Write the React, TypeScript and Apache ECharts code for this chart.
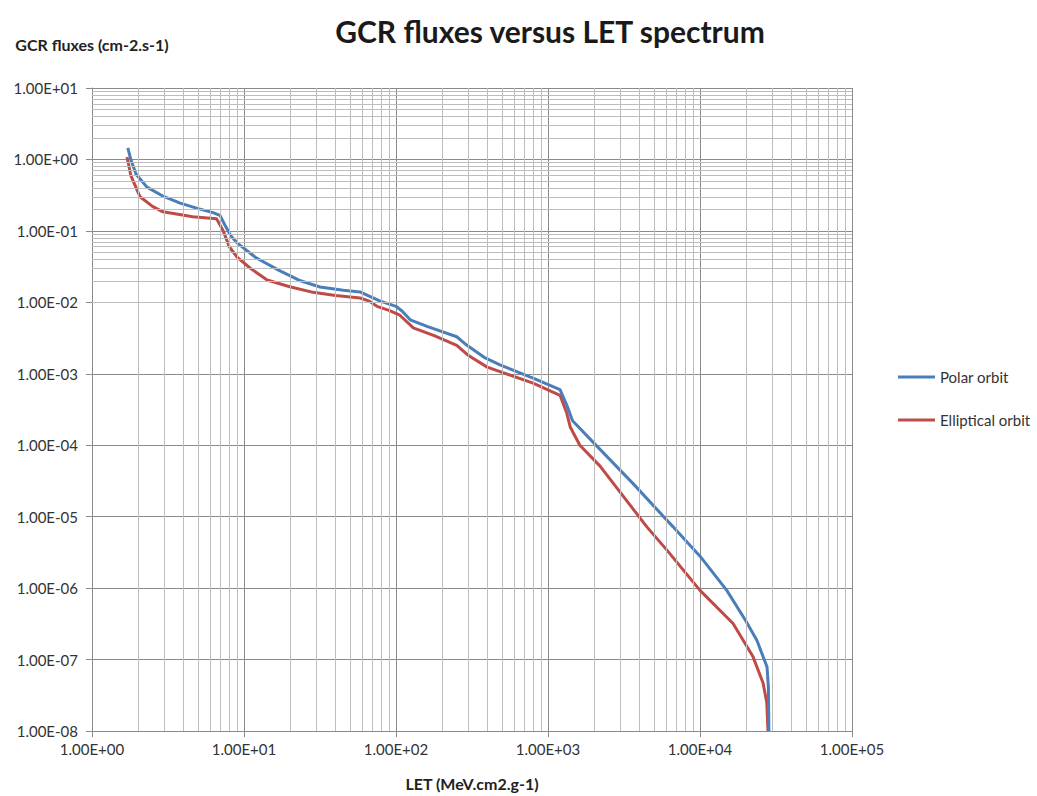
import React, { useEffect, useRef } from "react";
import * as echarts from "echarts";

const titleText = "GCR fluxes versus LET spectrum";
const yAxisTitle = "GCR fluxes (cm-2.s-1)";
const xAxisTitle = "LET (MeV.cm2.g-1)";
const seriesNames = ["Polar orbit", "Elliptical orbit"];

// LET (MeV.cm2.g-1)
const polarLET = [1.72, 1.8, 1.95, 2.3, 2.9, 3.8, 5, 6.25, 6.95, 7.5, 8.2, 9, 12, 17, 23, 31.6, 45, 58, 65, 78, 100, 110, 124, 160, 251, 293, 380, 483, 797, 1200, 1333, 1450, 2090, 3630, 6650, 10000, 15000, 20000, 23700, 26000, 27600, 28200, 28400];
const polarFlux = [1.45, 1.0, 0.62, 0.41, 0.31, 0.245, 0.205, 0.18, 0.165, 0.12, 0.085, 0.068, 0.042, 0.028, 0.0204, 0.0164, 0.0148, 0.014, 0.0125, 0.0105, 0.0088, 0.0075, 0.0057, 0.0046, 0.0033, 0.0025, 0.0017, 0.00133, 0.00087, 0.0006, 0.00036, 0.00022, 0.000098, 0.000029, 0.0000072, 0.0000028, 0.00000093, 0.00000035, 0.000000185, 0.00000011, 0.000000079, 0.00000004, 0.00000001];

const ellipLET = [1.7, 1.8, 2.07, 2.5, 2.93, 4.6, 6.6, 7.3, 8, 9, 11, 14.2, 20, 28.5, 40, 58, 66, 75, 90, 106, 130, 180, 251, 300, 398, 797, 1200, 1330, 1400, 1620, 2200, 4470, 6060, 10000, 16500, 22300, 26000, 27500, 28000];
const ellipFlux = [1.08, 0.6, 0.3, 0.22, 0.185, 0.158, 0.148, 0.1, 0.06, 0.043, 0.03, 0.0205, 0.0165, 0.0138, 0.0125, 0.0115, 0.0105, 0.0088, 0.0077, 0.0066, 0.0044, 0.0034, 0.0025, 0.0018, 0.00124, 0.00074, 0.0005, 0.00028, 0.00018, 0.0001, 0.000051, 0.0000072, 0.0000034, 0.00000093, 0.00000032, 0.00000011, 0.000000047, 0.000000025, 0.00000001];

const xMin = 1;
const xMax = 1e5;
const yMin = 1e-8;
const yMax = 10;

const minorMultipliers = [2, 3, 4, 5, 6, 7, 8, 9];
const xDecades = [0, 1, 2, 3, 4];
const yDecades = [-8, -7, -6, -5, -4, -3, -2, -1, 0];

function fmtSci(v: number): string {
  const e = Math.round(Math.log10(v));
  const sign = e < 0 ? "-" : "+";
  const a = Math.abs(e);
  return "1.00E" + sign + (a < 10 ? "0" + a : String(a));
}

export default function App() {
  const ref = useRef<HTMLDivElement>(null);
  useEffect(() => {
    if (!ref.current) return;
    const chart = echarts.init(ref.current, null, { renderer: "svg" });
    const font = "Lato, 'Open Sans', sans-serif";
    const minorX: any[] = [];
    xDecades.forEach((d) => minorMultipliers.forEach((k) => minorX.push({ xAxis: k * Math.pow(10, d) })));
    const minorY: any[] = [];
    yDecades.forEach((d) => minorMultipliers.forEach((k) => minorY.push({ yAxis: parseFloat((k * Math.pow(10, d)).toPrecision(3)) })));

    chart.setOption({
      animation: false,
      backgroundColor: "#ffffff",
      title: {
        text: titleText,
        left: 545,
        textAlign: "center",
        top: 11,
        textStyle: { fontFamily: font, fontSize: 30, fontWeight: "bold", color: "#1a1a1a" },
      },
      legend: {
        orient: "vertical",
        left: 893,
        top: 363,
        itemGap: 25,
        itemWidth: 37,
        itemHeight: 3,
        icon: "rect",
        data: seriesNames,
        textStyle: { fontFamily: font, fontSize: 15, color: "#333", lineHeight: 18, padding: [0, 0, 0, 0] },
      },
      grid: { left: 92, right: 185, top: 88, bottom: 65, outerBoundsMode: "none", containLabel: false },
      xAxis: {
        type: "log",
        logBase: 10,
        min: xMin,
        max: xMax,
        splitNumber: 5,
        name: xAxisTitle,
        nameLocation: "middle",
        nameGap: 44,
        nameTextStyle: { fontFamily: font, fontSize: 16, fontWeight: "bold", color: "#222" },
        axisLine: { show: true, lineStyle: { color: "#8a8a8a" } },
        axisTick: { show: true, length: 6, lineStyle: { color: "#8a8a8a" } },
        axisLabel: { formatter: (v: number) => fmtSci(v), fontFamily: font, fontSize: 15, color: "#333", margin: 10 },
        splitLine: { show: true, lineStyle: { color: "#8a8a8a", width: 1 } },
      },
      yAxis: {
        type: "log",
        logBase: 10,
        min: yMin,
        max: yMax,
        splitNumber: 9,
        name: yAxisTitle,
        nameLocation: "end",
        nameGap: 36,
        nameTextStyle: { fontFamily: font, fontSize: 16, fontWeight: "bold", color: "#222", align: "center" },
        axisLine: { show: true, lineStyle: { color: "#8a8a8a" } },
        axisTick: { show: true, length: 6, lineStyle: { color: "#8a8a8a" } },
        axisLabel: { formatter: (v: number) => fmtSci(v), fontFamily: font, fontSize: 15, color: "#333", margin: 14 },
        splitLine: { show: true, lineStyle: { color: "#8a8a8a", width: 1 } },
      },
      series: [
        {
          name: "minor-grid",
          type: "line",
          data: [],
          z: 1,
          silent: true,
          markLine: {
            silent: true,
            symbol: ["none", "none"],
            label: { show: false },
            lineStyle: { color: "#bdbdbd", width: 1, type: "solid" },
            emphasis: { disabled: true },
            data: [...minorX, ...minorY],
          },
        },
        {
          name: seriesNames[0],
          type: "line",
          z: 3,
          showSymbol: false,
          symbol: "none",
          lineStyle: { color: "#4a7ebb", width: 3 },
          itemStyle: { color: "#4a7ebb" },
          data: polarLET.map((x, i) => [x, polarFlux[i]]),
        },
        {
          name: seriesNames[1],
          type: "line",
          z: 2,
          showSymbol: false,
          symbol: "none",
          lineStyle: { color: "#be4b48", width: 3 },
          itemStyle: { color: "#be4b48" },
          data: ellipLET.map((x, i) => [x, ellipFlux[i]]),
        },
      ],
    });
    return () => chart.dispose();
  }, []);
  return <div ref={ref} style={{ width: 1037, height: 796, position: "absolute", left: 0, top: 0 }} />;
}
